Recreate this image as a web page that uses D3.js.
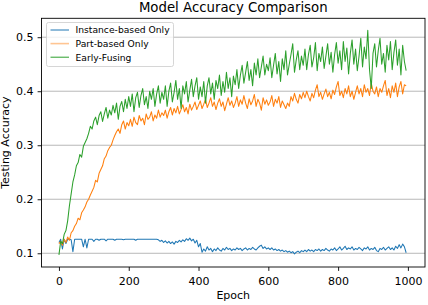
<!DOCTYPE html>
<html>
<head>
<meta charset="utf-8">
<script src="https://cdn.jsdelivr.net/npm/d3@7/dist/d3.min.js"></script>
<style>
html,body{margin:0;padding:0;background:#fff;}
text{font-family:"DejaVu Sans",sans-serif;}
</style>
</head>
<body>
<svg id="chart" width="428" height="305"></svg>
<script>
const title = "Model Accuracy Comparison";
const xLabel = "Epoch";
const yLabel = "Testing Accuracy";
const seriesNames = ["Instance-based Only", "Part-based Only", "Early-Fusing"];
const colors = ["#1f77b4", "#ff7f0e", "#2ca02c"];
const xTicks = [0, 200, 400, 600, 800, 1000];
const yTicks = [0.1, 0.2, 0.3, 0.4, 0.5];
const epochs = d3.range(0, 1000, 5);

const instanceVals = [
0.12,0.126,0.108,0.126,0.118,0.126,0.126,0.125,0.103,0.126,0.126,0.126,0.126,0.126,0.112,0.126,0.11,0.126,0.126,0.126,0.122,
0.126,0.126,0.124,0.126,0.126,0.126,0.123,0.126,0.126,0.126,0.126,0.124,0.126,0.126,0.126,0.126,0.125,0.126,0.126,0.126,
0.126,0.126,0.126,0.124,0.126,0.126,0.126,0.126,0.126,0.126,0.126,0.126,0.126,0.126,0.126,0.126,0.125,0.122,0.124,0.12,
0.123,0.119,0.122,0.118,0.121,0.117,0.122,0.12,0.124,0.121,0.125,0.122,0.127,0.124,0.128,0.123,0.126,0.119,0.124,0.112,
0.118,0.102,0.108,0.104,0.112,0.106,0.109,0.103,0.108,0.105,0.11,0.106,0.104,0.109,0.106,0.111,0.107,0.109,0.105,0.108,
0.106,0.11,0.107,0.109,0.105,0.108,0.11,0.106,0.109,0.107,0.111,0.108,0.106,0.11,0.113,0.115,0.109,0.112,0.108,0.11,
0.107,0.11,0.106,0.108,0.105,0.107,0.104,0.106,0.103,0.105,0.102,0.104,0.101,0.103,0.099,0.102,0.104,0.101,0.105,0.103,
0.106,0.103,0.107,0.104,0.106,0.103,0.107,0.105,0.108,0.104,0.107,0.105,0.109,0.106,0.104,0.108,0.106,0.11,0.105,0.108,
0.112,0.106,0.109,0.113,0.107,0.11,0.108,0.112,0.106,0.109,0.107,0.111,0.108,0.105,0.11,0.108,0.112,0.106,0.109,0.107,
0.111,0.105,0.103,0.109,0.107,0.111,0.106,0.109,0.112,0.107,0.11,0.106,0.113,0.109,0.116,0.11,0.117,0.112,0.101
];

const partVals = [
0.118,0.122,0.115,0.126,0.12,0.13,0.124,0.138,0.142,0.15,0.155,0.165,0.162,0.175,0.18,0.186,0.195,0.2,0.208,0.215,0.222,
0.235,0.232,0.248,0.255,0.262,0.275,0.28,0.29,0.296,0.3,0.31,0.318,0.325,0.33,0.322,0.338,0.345,0.33,0.342,0.336,
0.348,0.335,0.352,0.342,0.338,0.355,0.345,0.35,0.338,0.358,0.348,0.352,0.362,0.345,0.356,0.35,0.365,0.352,0.36,0.355,
0.365,0.35,0.362,0.37,0.356,0.368,0.36,0.372,0.358,0.366,0.375,0.362,0.37,0.358,0.376,0.365,0.372,0.38,0.366,0.374,
0.382,0.368,0.376,0.385,0.37,0.378,0.388,0.372,0.38,0.366,0.378,0.386,0.372,0.38,0.364,0.376,0.388,0.374,0.382,0.37,
0.378,0.39,0.372,0.384,0.376,0.392,0.378,0.368,0.386,0.375,0.382,0.394,0.372,0.385,0.378,0.365,0.388,0.376,0.384,0.374,
0.38,0.392,0.372,0.385,0.378,0.39,0.37,0.382,0.375,0.368,0.378,0.372,0.39,0.382,0.396,0.385,0.378,0.394,0.386,0.398,
0.388,0.4,0.39,0.382,0.396,0.388,0.402,0.412,0.39,0.398,0.385,0.395,0.404,0.39,0.398,0.386,0.402,0.394,0.408,0.418,
0.392,0.4,0.388,0.405,0.395,0.41,0.39,0.4,0.385,0.398,0.41,0.395,0.405,0.39,0.412,0.398,0.405,0.392,0.415,0.4,
0.395,0.408,0.39,0.405,0.398,0.41,0.42,0.392,0.405,0.388,0.41,0.398,0.415,0.39,0.408,0.418,0.395,0.412,0.41
];

const fusingVals = [
0.097,0.122,0.118,0.135,0.142,0.16,0.188,0.21,0.232,0.245,0.262,0.268,0.283,0.278,0.298,0.305,0.312,0.322,0.335,0.33,0.345,
0.352,0.338,0.355,0.362,0.344,0.358,0.37,0.35,0.365,0.356,0.374,0.36,0.378,0.348,0.372,0.381,0.362,0.385,0.368,0.39,
0.372,0.395,0.362,0.388,0.398,0.37,0.392,0.405,0.375,0.39,0.368,0.4,0.385,0.405,0.372,0.395,0.41,0.378,0.398,0.385,
0.41,0.372,0.4,0.415,0.38,0.398,0.42,0.385,0.405,0.368,0.41,0.395,0.418,0.38,0.402,0.422,0.39,0.41,0.425,0.385,
0.408,0.39,0.418,0.378,0.41,0.425,0.395,0.415,0.385,0.42,0.405,0.43,0.392,0.418,0.398,0.435,0.405,0.425,0.39,0.428,
0.412,0.44,0.405,0.43,0.448,0.415,0.435,0.455,0.42,0.44,0.41,0.452,0.43,0.46,0.425,0.445,0.465,0.43,0.45,0.438,
0.462,0.425,0.448,0.47,0.432,0.455,0.418,0.46,0.44,0.475,0.43,0.45,0.468,0.488,0.435,0.458,0.475,0.44,0.465,0.448,
0.478,0.44,0.468,0.485,0.445,0.462,0.49,0.438,0.47,0.455,0.482,0.442,0.465,0.488,0.45,0.472,0.435,0.468,0.49,0.452,
0.475,0.44,0.492,0.455,0.48,0.432,0.47,0.495,0.45,0.478,0.438,0.465,0.498,0.445,0.482,0.46,0.513,0.44,0.405,0.47,
0.488,0.445,0.475,0.498,0.45,0.47,0.435,0.485,0.458,0.492,0.44,0.472,0.495,0.448,0.478,0.43,0.485,0.455,0.438
];

const seriesVals = [instanceVals, partVals, fusingVals];

const svg = d3.select("#chart");
const L = 41.5, R = 425, T = 18.3, B = 267;

const x = d3.scaleLinear().domain([-50, 1049]).range([L, R]);
const y = d3.scaleLinear().domain([0.0746, 0.535]).range([B, T]);

// grid
svg.append("g")
  .selectAll("line").data(yTicks).join("line")
  .attr("x1", L).attr("x2", R)
  .attr("y1", d => y(d)).attr("y2", d => y(d))
  .attr("stroke", "#b0b0b0").attr("stroke-width", 0.9);

// lines
const line = d3.line().x((d, i) => x(epochs[i])).y(d => y(d));
seriesVals.forEach((vals, k) => {
  svg.append("path").datum(vals)
    .attr("d", line)
    .attr("fill", "none")
    .attr("stroke", colors[k])
    .attr("stroke-width", 1.05)
    .attr("stroke-linejoin", "round");
});

// axes
const xAxis = d3.axisBottom(x).tickValues(xTicks).tickSize(3.9).tickPadding(6.5).tickFormat(d3.format("d"));
const yAxis = d3.axisLeft(y).tickValues(yTicks).tickSize(3.9).tickPadding(4).tickFormat(d3.format(".1f"));

const gx = svg.append("g").attr("transform", `translate(0,${B})`).call(xAxis);
const gy = svg.append("g").attr("transform", `translate(${L},0)`).call(yAxis);
[gx, gy].forEach(g => {
  g.select(".domain").remove();
  g.selectAll("line").attr("stroke", "#000").attr("stroke-width", 0.9);
  g.selectAll("text").attr("fill", "#000").style("font-size", "11px").style("font-family", "DejaVu Sans");
});

// frame
svg.append("rect").attr("x", L).attr("y", T).attr("width", R - L).attr("height", B - T)
  .attr("fill", "none").attr("stroke", "#000").attr("stroke-width", 0.9);

// labels
svg.append("text").attr("x", (L + R) / 2).attr("y", 12).attr("text-anchor", "middle")
  .style("font-size", "13.3px").text(title);
svg.append("text").attr("x", (L + R) / 2).attr("y", 299).attr("text-anchor", "middle")
  .style("font-size", "11px").text(xLabel);
svg.append("text").attr("transform", `translate(9,${(T + B) / 2}) rotate(-90)`).attr("text-anchor", "middle")
  .style("font-size", "11px").text(yLabel);

// legend
const lg = svg.append("g");
lg.append("rect").attr("x", 46.5).attr("y", 22.5).attr("width", 127).attr("height", 44)
  .attr("rx", 2).attr("fill", "#fff").attr("fill-opacity", 0.8).attr("stroke", "#cccccc").attr("stroke-width", 0.8);
seriesNames.forEach((name, k) => {
  const yy = 30 + k * 13.6;
  lg.append("line").attr("x1", 50.5).attr("x2", 69).attr("y1", yy).attr("y2", yy)
    .attr("stroke", colors[k])
    .attr("stroke-width", k === 1 ? 1.6 : 1)
    .attr("stroke-opacity", k === 1 ? 0.45 : 1);
  lg.append("text").attr("x", 75.5).attr("y", yy + 3.3).style("font-size", "9.2px").text(name);
});
</script>
</body>
</html>
